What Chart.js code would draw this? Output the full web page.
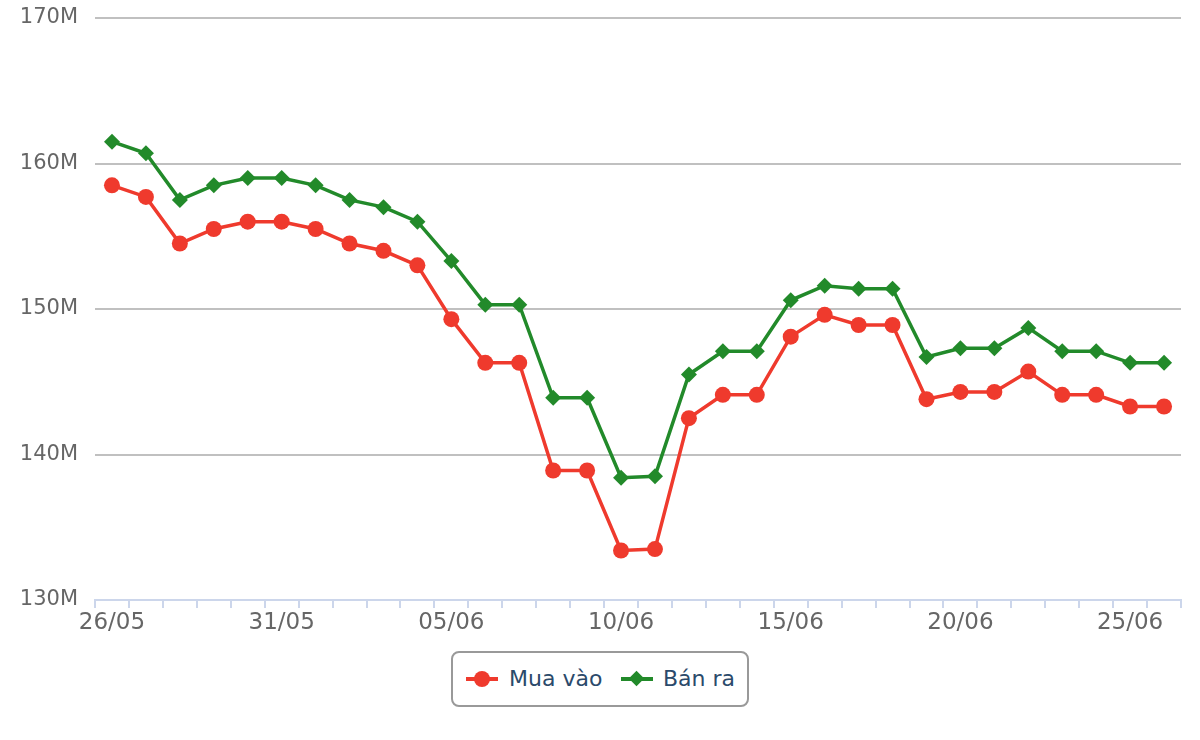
<!DOCTYPE html>
<html>
<head>
<meta charset="utf-8">
<script src="https://cdn.jsdelivr.net/npm/chart.js@4/dist/chart.umd.min.js"></script>
<style>
  html, body { margin: 0; padding: 0; background: #fff; }
  #wrap { position: relative; width: 1200px; height: 740px; }
  #chart { display: block; }
  #legend {
    position: absolute; left: 451px; top: 651px; width: 294px; height: 52px;
    border: 2px solid #999; border-radius: 8px;
    font-family: "DejaVu Sans", sans-serif; font-size: 22px; color: #2b4a6b;
  }
  .item { position: absolute; top: 0; height: 52px; line-height: 52px; white-space: nowrap; }
  .sym { position: absolute; top: 24px; width: 32px; height: 4px; }
  .mark { position: absolute; }
  .txt { position: absolute; top: 0; }
</style>
</head>
<body>
<div id="wrap">
  <canvas id="chart" width="1200" height="640"></canvas>
  <div id="legend"></div>
</div>
<script>
const dates = [
  '26/05', '27/05', '28/05', '29/05', '30/05', '31/05', '01/06', '02/06',
  '03/06', '04/06', '05/06', '06/06', '07/06', '08/06', '09/06', '10/06',
  '11/06', '12/06', '13/06', '14/06', '15/06', '16/06', '17/06', '18/06',
  '19/06', '20/06', '21/06', '22/06', '23/06', '24/06', '25/06', '26/06'
];

// giá mua vào (triệu đồng)
const muaVao = [
  158.5, 157.7, 154.5, 155.5, 156.0, 156.0, 155.5, 154.5,
  154.0, 153.0, 149.3, 146.3, 146.3, 138.9, 138.9, 133.4,
  133.5, 142.5, 144.1, 144.1, 148.1, 149.6, 148.9, 148.9,
  143.8, 144.3, 144.3, 145.7, 144.1, 144.1, 143.3, 143.3
];

// giá bán ra
const banRa = [
  161.5, 160.7, 157.5, 158.5, 159.0, 159.0, 158.5, 157.5,
  157.0, 156.0, 153.3, 150.3, 150.3, 143.9, 143.9, 138.4,
  138.5, 145.5, 147.1, 147.1, 150.6, 151.6, 151.4, 151.4,
  146.7, 147.3, 147.3, 148.7, 147.1, 147.1, 146.3, 146.3
];

const yTicks = [130, 140, 150, 160, 170];

const RED = '#ef3a2d';
const GREEN = '#228a2a';
const FONT = '"DejaVu Sans", sans-serif';

const canvas = document.getElementById('chart');

const chart = new Chart(canvas, {
  type: 'line',
  data: {
    labels: dates,
    datasets: [
      {
        label: 'Mua vào',
        data: muaVao,
        borderColor: RED,
        backgroundColor: RED,
        borderWidth: 3.5,
        pointStyle: 'circle',
        pointRadius: 8,
        pointBorderWidth: 0,
        tension: 0
      },
      {
        label: 'Bán ra',
        data: banRa,
        borderColor: GREEN,
        backgroundColor: GREEN,
        borderWidth: 3.5,
        pointStyle: 'rectRot',
        pointRadius: 8,
        pointBorderWidth: 0,
        tension: 0
      }
    ]
  },
  options: {
    responsive: false,
    animation: false,
    layout: {
      padding: { top: 18, right: 19, bottom: 0, left: 0 }
    },
    scales: {
      x: {
        type: 'category',
        offset: true,
        afterFit(scale) { scale.height = 40; },
        border: { display: true, color: '#ccd6eb', width: 2 },
        grid: {
          offset: true,
          drawOnChartArea: false,
          drawTicks: true,
          tickLength: 8,
          color: '#ccd6eb',
          lineWidth: 2
        },
        ticks: {
          autoSkip: false,
          maxRotation: 0,
          padding: 1,
          color: '#666',
          font: { family: FONT, size: 23 },
          callback(value, index) {
            return index % 5 === 0 ? dates[index] : '';
          }
        }
      },
      y: {
        min: 130,
        max: 170,
        afterFit(scale) {
          scale.width = 95;
          // bỏ phần đệm nhãn để vùng vẽ bắt đầu đúng ở padding.top
          scale.paddingTop = 0;
          scale.paddingBottom = 0;
        },
        afterBuildTicks(scale) {
          scale.ticks = yTicks.map(v => ({ value: v }));
        },
        border: { display: false },
        grid: {
          color: '#c0c0c0',
          lineWidth: 2,
          drawTicks: false
        },
        ticks: {
          padding: 17,
          color: '#666',
          font: { family: FONT, size: 21 },
          callback(value) { return value + 'M'; }
        }
      }
    },
    plugins: {
      legend: { display: false },
      tooltip: { enabled: false }
    }
  }
});

// legend kiểu highcharts, có khung bo góc
function renderLegend() {
  const box = document.getElementById('legend');
  const layout = [
    { sym: 13, txt: 56 },
    { sym: 168, txt: 210 }
  ];
  chart.data.datasets.forEach((ds, i) => {
    const item = document.createElement('div');
    item.className = 'item';
    item.style.left = '0px';

    const line = document.createElement('div');
    line.className = 'sym';
    line.style.left = layout[i].sym + 'px';
    line.style.background = ds.borderColor;
    item.appendChild(line);

    const mark = document.createElement('div');
    mark.className = 'mark';
    if (ds.pointStyle === 'circle') {
      mark.style.width = '16px';
      mark.style.height = '16px';
      mark.style.borderRadius = '50%';
      mark.style.left = (layout[i].sym + 8) + 'px';
      mark.style.top = '18px';
    } else {
      mark.style.width = '11px';
      mark.style.height = '11px';
      mark.style.transform = 'rotate(45deg)';
      mark.style.left = (layout[i].sym + 10) + 'px';
      mark.style.top = '20px';
    }
    mark.style.background = ds.backgroundColor;
    item.appendChild(mark);

    const txt = document.createElement('span');
    txt.className = 'txt';
    txt.style.left = layout[i].txt + 'px';
    txt.textContent = ds.label;
    item.appendChild(txt);

    box.appendChild(item);
  });
}
renderLegend();
</script>
</body>
</html>
